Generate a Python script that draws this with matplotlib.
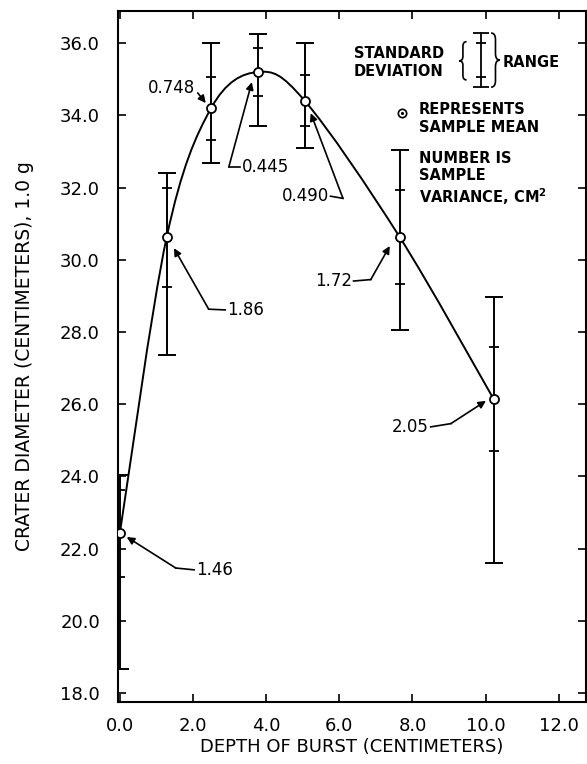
import numpy as np
import matplotlib
matplotlib.use("Agg")
import matplotlib.pyplot as plt
from matplotlib.path import Path
from matplotlib.patches import PathPatch

# depth of burst (cm) and crater diameter statistics
depth = [0.0, 1.28, 2.49, 3.77, 5.05, 7.65, 10.22]
mean_diam = [22.42, 30.62, 34.19, 35.20, 34.41, 30.63, 26.14]
variance = [1.46, 1.86, 0.748, 0.445, 0.490, 1.72, 2.05]
var_labels = ["1.46", "1.86", "0.748", "0.445", "0.490", "1.72", "2.05"]
range_lo = [18.65, 27.37, 32.68, 33.70, 33.10, 28.05, 21.60]
range_hi = [24.05, 32.41, 36.00, 36.25, 36.00, 33.03, 28.98]

x_ticks = [0, 2, 4, 6, 8, 10, 12]
y_ticks = [18, 20, 22, 24, 26, 28, 30, 32, 34, 36]

plt.rcParams["font.family"] = ["DejaVu Sans"]


def brace(ax, xc, y0, y1, w, left=True, lw=1.2):
    # curly brace drawn as a path; left=True gives "{"
    q = (y1 - y0) * 0.12
    ym = (y0 + y1) / 2
    xo = xc + w / 2 if left else xc - w / 2   # open ends
    xt = xc - w / 2 if left else xc + w / 2   # tip
    v = [(xo, y1), (xc, y1), (xc, y1 - q), (xc, ym + q), (xc, ym), (xt, ym),
         (xc, ym), (xc, ym - q), (xc, y0 + q), (xc, y0), (xo, y0)]
    c = [Path.MOVETO, Path.CURVE3, Path.CURVE3, Path.LINETO, Path.CURVE3, Path.CURVE3,
         Path.CURVE3, Path.CURVE3, Path.LINETO, Path.CURVE3, Path.CURVE3]
    ax.add_patch(PathPatch(Path(v, c), fc="none", ec="black", lw=lw))


fig = plt.figure(figsize=(5.87, 7.64), dpi=100)
ax = fig.add_axes([0.201, 0.0812, 0.797, 0.9044])

x = np.array(depth)
m = np.array(mean_diam)
sd = np.sqrt(np.array(variance))
lo = np.array(range_lo)
hi = np.array(range_hi)

# fitted curve: smooth Bezier through the means
pts = np.column_stack([x, m])
ext = np.vstack([pts[0], pts, pts[-1]])
verts = [tuple(pts[0])]
codes = [Path.MOVETO]
for i in range(len(pts) - 1):
    p0, p1, p2, p3 = ext[i], ext[i + 1], ext[i + 2], ext[i + 3]
    c1 = p1 + (p2 - p0) / 6.0
    c2 = p2 - (p3 - p1) / 6.0
    verts += [tuple(c1), tuple(c2), tuple(p2)]
    codes += [Path.CURVE4] * 3
ax.add_patch(PathPatch(Path(verts, codes), fc="none", ec="black", lw=1.4, zorder=2))

# range bars and standard deviation ticks
ax.errorbar(x, m, yerr=[m - lo, hi - m], fmt="none", ecolor="black",
            elinewidth=1.4, capsize=6.5, capthick=1.4, zorder=3)
ax.plot(x, m + sd, ls="none", marker="_", ms=7, mew=1.3, color="black", zorder=3)
ax.plot(x, m - sd, ls="none", marker="_", ms=7, mew=1.3, color="black", zorder=3)
ax.plot(x, m, ls="none", marker="o", ms=6.5, mfc="white", mec="black", mew=1.3, zorder=4)

# variance call-outs: (tip, knee, text position, alignment)
notes = [
    ((0.19, 22.32), (1.53, 21.46), (2.08, 21.41), "left"),
    ((1.48, 30.32), (2.43, 28.63), (2.93, 28.61), "left"),
    ((2.35, 34.34), (2.13, 34.62), (2.05, 34.75), "right"),
    ((3.61, 34.92), (2.98, 32.57), (3.34, 32.57), "left"),
    ((5.22, 34.06), (6.10, 31.70), (5.71, 31.76), "right"),
    ((7.38, 30.38), (6.86, 29.45), (6.34, 29.41), "right"),
    ((10.01, 26.09), (9.05, 25.46), (8.45, 25.37), "right"),
]
for lab, (tip, knee, txt, ha) in zip(var_labels, notes):
    ax.text(txt[0], txt[1], lab, fontsize=12, ha=ha, va="center", zorder=5)
    edge = txt[0] - 0.05 if ha == "left" else txt[0] + 0.05
    if abs(edge - knee[0]) > 0.1:
        ax.plot([knee[0], edge], [knee[1], txt[1]], color="black", lw=1.2)
    ax.annotate("", xy=tip, xytext=knee,
                arrowprops=dict(arrowstyle="-|>", lw=1.2, color="black",
                                mutation_scale=11, shrinkA=0, shrinkB=0))

# key in the upper right
ax.text(6.40, 35.46, "STANDARD\nDEVIATION", fontsize=10.5, fontweight="bold",
        ha="left", va="center", linespacing=1.25)
brace(ax, 9.38, 34.98, 36.04, 0.20, left=True)
brace(ax, 10.27, 34.78, 36.28, 0.24, left=False)
ax.plot([9.87, 9.87], [34.78, 36.28], color="black", lw=1.3)
ax.plot([9.87, 9.87], [34.78, 36.28], ls="none", marker="_", ms=11, mew=1.3, color="black")
ax.plot([9.87, 9.87], [35.06, 36.00], ls="none", marker="_", ms=7, mew=1.3, color="black")
ax.text(10.46, 35.47, "RANGE", fontsize=10.5, fontweight="bold", ha="left", va="center")
ax.plot([7.72], [34.06], ls="none", marker="o", ms=6, mfc="white", mec="black", mew=1.2)
ax.plot([7.72], [34.06], ls="none", marker=".", ms=2.5, color="black")
ax.text(8.17, 33.92, "REPRESENTS\nSAMPLE MEAN", fontsize=10.5, fontweight="bold",
        ha="left", va="center", linespacing=1.25)
ax.text(8.17, 32.23, "NUMBER IS\nSAMPLE\nVARIANCE, CM$^{\\mathbf{2}}$", fontsize=10.5,
        fontweight="bold", ha="left", va="center", linespacing=1.2)

ax.set_xlim(-0.05, 12.74)
ax.set_ylim(17.75, 36.89)
ax.set_xticks(x_ticks)
ax.set_xticklabels([f"{v:.1f}" for v in x_ticks])
ax.set_yticks(y_ticks)
ax.set_yticklabels([f"{v:.1f}" for v in y_ticks])
ax.tick_params(direction="in", length=6, width=1.2, top=True, right=True,
               labelsize=13)
ax.tick_params(axis="x", pad=11)
ax.tick_params(axis="y", pad=13)
for s in ax.spines.values():
    s.set_linewidth(1.5)

ax.set_xlabel("DEPTH OF BURST (CENTIMETERS)", fontsize=13)
ax.set_ylabel("CRATER DIAMETER (CENTIMETERS), 1.0 g", fontsize=13.5)
ax.xaxis.set_label_coords(0.5, -0.052)
ax.xaxis.label.set_va("top")
ax.yaxis.set_label_coords(-0.18, 0.5)

fig.savefig("out.png", dpi=100)
